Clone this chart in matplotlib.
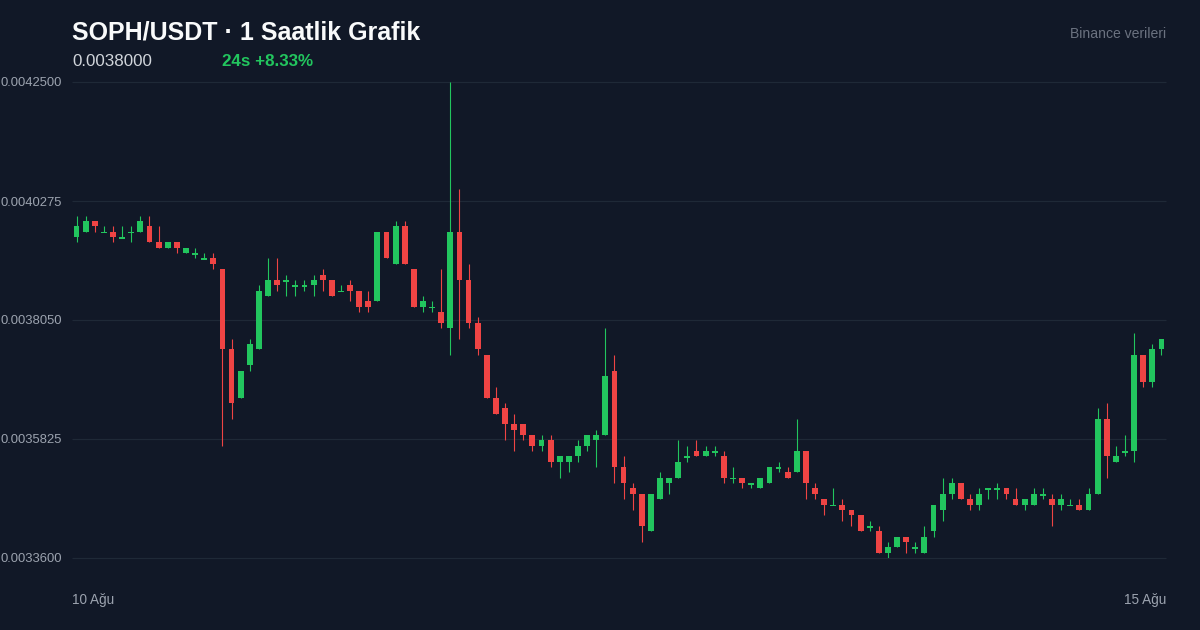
import numpy as np
import matplotlib
matplotlib.use("Agg")
import matplotlib.pyplot as plt

plt.rcParams['font.family'] = ['Liberation Sans', 'DejaVu Sans']

# ---- data (hourly candles, SOPH/USDT) ----
opens = [0.00396, 0.00397, 0.00399, 0.00397, 0.00397, 0.00396, 0.00397, 0.00397, 0.00398, 0.00395,
         0.00394, 0.00395, 0.00393, 0.00393, 0.00392, 0.00392, 0.00390, 0.00375, 0.00366, 0.00372,
         0.00375, 0.00385, 0.00388, 0.00388, 0.00387, 0.00387, 0.00387, 0.00389, 0.00388, 0.00386,
         0.00387, 0.00386, 0.00384, 0.00384, 0.00397, 0.00391, 0.00398, 0.00390, 0.00383, 0.00383,
         0.00382, 0.00379, 0.00397, 0.00388, 0.00380, 0.00374, 0.00366, 0.00364, 0.00361, 0.00361,
         0.00359, 0.00357, 0.00358, 0.00354, 0.00354, 0.00355, 0.00357, 0.00358, 0.00359, 0.00371,
         0.00353, 0.00349, 0.00348, 0.00341, 0.00347, 0.00350, 0.00351, 0.00355, 0.00356, 0.00355,
         0.00356, 0.00355, 0.00351, 0.00351, 0.00350, 0.00349, 0.00350, 0.00353, 0.00352, 0.00352,
         0.00356, 0.00349, 0.00347, 0.00346, 0.00346, 0.00345, 0.00344, 0.00342, 0.00341, 0.00337,
         0.00338, 0.00340, 0.00338, 0.00337, 0.00341, 0.00345, 0.00348, 0.00350, 0.00347, 0.00346,
         0.00349, 0.00349, 0.00349, 0.00347, 0.00346, 0.00346, 0.00348, 0.00347, 0.00346, 0.00346,
         0.00346, 0.00345, 0.00348, 0.00362, 0.00354, 0.00356, 0.00356, 0.00374, 0.00369, 0.00375]

highs = [0.00400, 0.00400, 0.00399, 0.00398, 0.00398, 0.00398, 0.00398, 0.00400, 0.00400, 0.00398,
         0.00395, 0.00395, 0.00394, 0.00394, 0.00393, 0.00393, 0.00390, 0.00377, 0.00371, 0.00377,
         0.00387, 0.00392, 0.00392, 0.00389, 0.00388, 0.00388, 0.00389, 0.00390, 0.00388, 0.00387,
         0.00388, 0.00386, 0.00386, 0.00397, 0.00397, 0.00399, 0.00399, 0.00390, 0.00385, 0.00384,
         0.00390, 0.00425, 0.00405, 0.00391, 0.00381, 0.00374, 0.00368, 0.00365, 0.00363, 0.00361,
         0.00359, 0.00359, 0.00359, 0.00355, 0.00355, 0.00358, 0.00359, 0.00360, 0.00379, 0.00374,
         0.00355, 0.00350, 0.00348, 0.00348, 0.00352, 0.00351, 0.00358, 0.00357, 0.00358, 0.00357,
         0.00357, 0.00356, 0.00353, 0.00351, 0.00350, 0.00351, 0.00353, 0.00354, 0.00353, 0.00362,
         0.00356, 0.00350, 0.00347, 0.00349, 0.00347, 0.00345, 0.00344, 0.00343, 0.00342, 0.00339,
         0.00340, 0.00340, 0.00339, 0.00342, 0.00346, 0.00351, 0.00351, 0.00350, 0.00348, 0.00349,
         0.00349, 0.00350, 0.00349, 0.00349, 0.00347, 0.00349, 0.00349, 0.00348, 0.00348, 0.00347,
         0.00347, 0.00349, 0.00364, 0.00365, 0.00357, 0.00359, 0.00378, 0.00374, 0.00376, 0.00377]

lows = [0.00395, 0.00397, 0.00397, 0.00397, 0.00395, 0.00396, 0.00395, 0.00397, 0.00395, 0.00394,
        0.00394, 0.00393, 0.00393, 0.00392, 0.00392, 0.00390, 0.00357, 0.00362, 0.00366, 0.00371,
        0.00375, 0.00385, 0.00386, 0.00385, 0.00385, 0.00386, 0.00385, 0.00386, 0.00385, 0.00386,
        0.00384, 0.00382, 0.00382, 0.00384, 0.00392, 0.00391, 0.00391, 0.00383, 0.00382, 0.00382,
        0.00379, 0.00374, 0.00377, 0.00379, 0.00374, 0.00366, 0.00363, 0.00358, 0.00356, 0.00358,
        0.00356, 0.00356, 0.00353, 0.00351, 0.00352, 0.00354, 0.00356, 0.00353, 0.00359, 0.00350,
        0.00347, 0.00345, 0.00339, 0.00341, 0.00347, 0.00348, 0.00351, 0.00354, 0.00355, 0.00355,
        0.00355, 0.00350, 0.00350, 0.00349, 0.00349, 0.00349, 0.00350, 0.00352, 0.00351, 0.00352,
        0.00347, 0.00347, 0.00344, 0.00346, 0.00343, 0.00342, 0.00341, 0.00341, 0.00337, 0.00336,
        0.00338, 0.00337, 0.00337, 0.00337, 0.00340, 0.00343, 0.00347, 0.00347, 0.00345, 0.00345,
        0.00347, 0.00347, 0.00347, 0.00346, 0.00345, 0.00346, 0.00347, 0.00342, 0.00345, 0.00346,
        0.00345, 0.00345, 0.00348, 0.00351, 0.00354, 0.00355, 0.00354, 0.00368, 0.00368, 0.00374]

closes = [0.00398, 0.00399, 0.00398, 0.00397, 0.00396, 0.00396, 0.00397, 0.00399, 0.00395, 0.00394,
          0.00395, 0.00394, 0.00394, 0.00393, 0.00392, 0.00391, 0.00375, 0.00365, 0.00371, 0.00376,
          0.00386, 0.00388, 0.00387, 0.00388, 0.00387, 0.00387, 0.00388, 0.00388, 0.00385, 0.00386,
          0.00386, 0.00383, 0.00383, 0.00397, 0.00392, 0.00398, 0.00391, 0.00383, 0.00384, 0.00383,
          0.00380, 0.00397, 0.00388, 0.00380, 0.00375, 0.00366, 0.00363, 0.00361, 0.00360, 0.00359,
          0.00357, 0.00358, 0.00354, 0.00355, 0.00355, 0.00357, 0.00359, 0.00359, 0.00370, 0.00353,
          0.00350, 0.00348, 0.00342, 0.00348, 0.00351, 0.00351, 0.00354, 0.00355, 0.00355, 0.00356,
          0.00356, 0.00351, 0.00351, 0.00350, 0.00350, 0.00351, 0.00353, 0.00353, 0.00351, 0.00356,
          0.00350, 0.00348, 0.00346, 0.00346, 0.00345, 0.00344, 0.00341, 0.00342, 0.00337, 0.00338,
          0.00340, 0.00339, 0.00338, 0.00340, 0.00346, 0.00348, 0.00350, 0.00347, 0.00346, 0.00348,
          0.00349, 0.00349, 0.00348, 0.00346, 0.00347, 0.00348, 0.00348, 0.00346, 0.00347, 0.00346,
          0.00345, 0.00348, 0.00362, 0.00355, 0.00355, 0.00356, 0.00374, 0.00369, 0.00375, 0.00377]

title = "SOPH/USDT · 1 Saatlik Grafik"
last_price = "0.0038000"
change_text = "24s +8.33%"
source_text = "Binance verileri"
x_start_label = "10 Ağu"
x_end_label = "15 Ağu"

# ---- style ----
BG = "#111827"
GRID = "#1f2937"
GREEN = "#22c55e"
RED = "#ef4444"
AXIS_TXT = "#9ca3af"
W, H = 1200, 630
PX = 0.72  # points per pixel at dpi 100

O = np.array(opens); Hh = np.array(highs); L = np.array(lows); C = np.array(closes)
n = len(O)

fig = plt.figure(figsize=(W / 100, H / 100), dpi=100, facecolor=BG)
ax = fig.add_axes([72 / W, (H - 558) / H, (1166 - 72) / W, (558 - 82) / H])
ax.set_facecolor(BG)

lo, hi = L.min(), Hh.max()
ax.set_xlim(0, n)
ax.set_ylim(lo, hi)
ticks = np.linspace(lo, hi, 5)
ax.hlines(ticks, 0, n, color=GRID, linewidth=1.2 * PX, zorder=0, clip_on=False)
ax.set_yticks(ticks)
ax.set_yticklabels([f"{t:.7f}" for t in ticks])
ax.tick_params(axis='y', length=0, pad=10 * PX, labelsize=13 * PX, labelcolor=AXIS_TXT)
ax.set_xticks([])
for s in ax.spines.values():
    s.set_visible(False)

x = np.arange(n) + 0.5
colors = np.where(C >= O, GREEN, RED)
ax.vlines(x, L, Hh, colors=colors, linewidth=1.1 * PX, zorder=2)
px_val = (hi - lo) / 476.0
body_h = np.maximum(np.abs(C - O), 1.7 * px_val)
body_top = np.maximum(O, C)
ax.bar(x, body_h, bottom=body_top - body_h, width=0.64, color=colors,
       linewidth=0, zorder=3)

# ---- texts ----
fig.text(72 / W, 1 - 39 / H, title, fontsize=25 * PX, fontweight='bold',
         color='#f9fafb', va='baseline', ha='left')
fig.text(72 / W, 1 - 65.5 / H, last_price, fontsize=17 * PX, color='#d1d5db',
         va='baseline', ha='left')
fig.text(222 / W, 1 - 65.5 / H, change_text, fontsize=17 * PX, fontweight='bold',
         color=GREEN, va='baseline', ha='left')
fig.text(1166 / W, 1 - 38.5 / H, source_text, fontsize=14 * PX, color='#6b7280',
         va='baseline', ha='right')
fig.text(72 / W, 1 - 604.3 / H, x_start_label, fontsize=13.5 * PX, color=AXIS_TXT,
         va='baseline', ha='left')
fig.text(1166 / W, 1 - 604.3 / H, x_end_label, fontsize=13.5 * PX, color=AXIS_TXT,
         va='baseline', ha='right')

fig.savefig("out.png", dpi=100, facecolor=BG)
